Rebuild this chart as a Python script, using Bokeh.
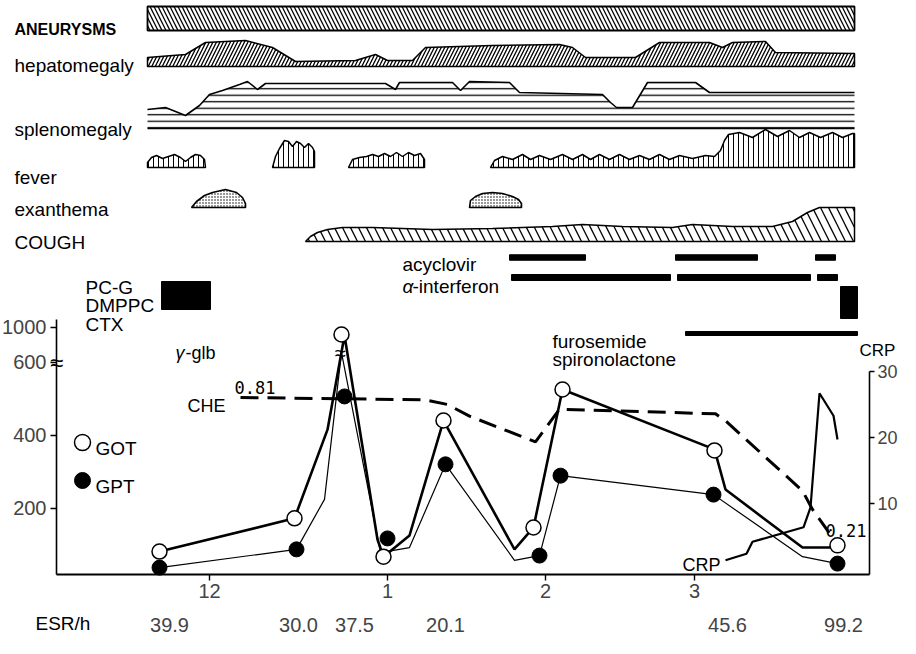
from bokeh.plotting import figure
from bokeh.models import Range1d, LinearAxis, FixedTicker, Label
from bokeh.embed import file_html
from bokeh.resources import INLINE

# ---------------- data ----------------
# time axis in days (tick "12" at day 0)
month_ticks = [0, 35.6, 67.2, 97]
month_labels = ["12", "1", "2", "3"]

got_day = [-10, 17, 26.4, 34.8, 46.8, 64.8, 70.6, 101, 125.6]
got_val = [82, 173, 920, 68, 441, 148, 526, 359, 99]
gpt_day = [-10, 17.4, 27, 35.6, 47.2, 66, 70.2, 100.8, 125.6]
gpt_val = [38, 88, 507, 118, 321, 71, 290, 238, 49]

got_line_day = [-10, 17, 23.6, 27, 33.6, 34.8, 40, 46.8, 61, 64.8, 70.6, 101, 103.2, 118.6, 125.6]
got_line_val = [82, 173, 416, 908, 115, 68, 126, 441, 88, 148, 526, 362, 252, 93, 93]
gpt_line_day = [-10, 17.4, 23, 26.4, 34.2, 40, 47.2, 61, 66, 70.2, 100.8, 118.6, 125.6]
gpt_line_val = [38, 88, 225, 713, 79, 93, 321, 58, 71, 290, 238, 68, 49]

che_day = [6.2, 43.2, 47.6, 52, 65.2, 70, 101.2, 103.2, 118.6, 120.6, 124.6]
che_val = [0.81, 0.80, 0.78, 0.73, 0.62, 0.76, 0.74, 0.71, 0.41, 0.33, 0.21]

crp_day = [103.2, 107.4, 108.6, 118.8, 120.2, 122, 124.8, 125.6]
crp_val = [1.4, 2.4, 4.2, 6.4, 9.4, 26.7, 23.3, 19.7]

esr_day = [-8, 17.8, 29, 47.2, 103.6, 126.8]
esr_val = ["39.9", "30.0", "37.5", "20.1", "45.6", "99.2"]

# clinical course bands (day, size)
aneurysm_span = [-12.4, 129]
hep_day = [-12.4, -4.8, -0.8, 7.2, 12.6, 17.2, 29.2, 33.2, 35.6, 40.6, 43.2, 56.6, 70, 72.6, 75.2,
           85.2, 90, 100, 102.6, 104.6, 111.2, 113.2, 129]
hep_h = [9, 12, 24, 26, 19, 5, 6, 12, 6, 6, 19, 21, 22, 19, 9, 9, 24, 24, 19, 24, 25, 14, 13]
spl_day = [-12.4, -8.8, -4.8, -2, 0, 2.6, 6, 7.6, 9.6, 11.2, 35.2, 37.2, 38, 48.6, 50.2, 52, 60, 62,
           78.6, 80.2, 81.4, 84.6, 87.6, 97.2, 100, 129]
spl_h = [19, 21, 13, 23, 34, 38, 44, 47, 39, 45, 45, 39, 46, 46, 38, 47, 46, 36, 34, 26, 21, 21, 46, 46, 36, 36]
fever1_day = [-12.4, -12.4, -11.6, -10.6, -9.4, -8.2, -7, -5.8, -4.8, -3.8, -2.8, -1.8, -1, -0.8]
fever1_h = [0, 5, 10, 12, 9, 11, 13, 10, 6, 10, 13, 12, 8, 0]
fever2_day = [12.6, 13.2, 14, 15, 15.8, 16.6, 17.4, 18.2, 19, 19.8, 20.6, 21, 21]
fever2_h = [0, 11, 19, 27, 26, 21, 26, 24, 20, 24, 20, 16, 0]
fever3_day = [27.8, 28.6, 30, 31.4, 32.6, 33.8, 35, 36.2, 37.4, 38.6, 39.8, 41, 42.2, 43, 43]
fever3_h = [0, 8, 10, 11, 13, 11, 14, 11, 15, 11, 15, 12, 14, 8, 0]
fever4_day = [56.2, 57, 58.6, 60.6, 62.6, 64.2, 66, 68.2, 70.6, 72.6, 74.6, 76.2, 78, 80, 82, 84, 86, 88,
              90, 92, 94, 96.6, 99.2, 101, 102.2, 103, 103.8, 106, 108.6, 111.2, 113.6, 116, 118, 120,
              122.2, 124.6, 126.6, 128.6, 129, 129]
fever4_h = [0, 7, 11, 8, 13, 8, 12, 8, 13, 8, 13, 8, 13, 8, 13, 8, 12, 8, 13, 8, 12, 9, 12, 11, 17, 27,
            33, 35, 30, 38, 31, 37, 30, 35, 30, 35, 30, 34, 34, 0]
exan1_day = [-3.6, -2.6, -1, 0.6, 3.2, 5.4, 6.6, 7.2, 7.2]
exan1_h = [0, 6, 12, 15, 18, 15, 10, 4, 0]
exan2_day = [52, 52.2, 53.2, 54.6, 56.6, 58.6, 60.6, 61.8, 62.4, 62.4]
exan2_h = [0, 7, 11, 14, 15, 14, 11, 8, 4, 0]
cough_day = [19.2, 20.2, 21.6, 23.6, 26.6, 32.6, 44.6, 56.6, 62.6, 68.6, 74.6, 82.6, 92.6, 96.6, 104.6,
             112.6, 116.6, 119.6, 122, 129]
cough_h = [0, 5, 9, 12, 14, 14, 12, 13, 14, 15, 17, 15, 14, 17, 15, 15, 20, 29, 34, 34]

# treatments (start/end days)
acyclovir_start = [60, 93.2, 121.2]
acyclovir_end = [75.2, 109.6, 125.2]
ifn_start = [60.4, 93.6, 121.6]
ifn_end = [92.2, 120.2, 125.6]
pcg_start, pcg_end = [-9.6], [0.2]
late_start, late_end = [126.2], [129.6]
furo_start, furo_end = [95.2], [129.6]

# broken GOT/GPT axis: above 600 compressed
BREAK_AT, BREAK_SCALE = 600, 0.24


def disp(v):
    return v if v <= BREAK_AT else BREAK_AT + (v - BREAK_AT) * BREAK_SCALE


# ---------------- figure ----------------
X0, X1 = -30.6, 132          # chart frame (days)
Y0 = 19.2                    # chart bottom (GOT units)
p = figure(width=900, height=638, x_range=Range1d(-41.8, 138.2), y_range=Range1d(-156.2, 1591.8),
           output_backend="svg", toolbar_location=None, x_axis_type=None, y_axis_type=None,
           min_border=0)
p.outline_line_color = None
p.xgrid.visible = False
p.ygrid.visible = False
p.extra_y_ranges = {"crp": Range1d(-10.45, 86.2), "che": Range1d(-0.2229, 2.5115),
                    "band": Range1d(646, 8)}

FONT = "Liberation Sans"
NUMF = "Liberation Sans"
MONO = "DejaVu Sans Mono"

# axes
left = LinearAxis(ticker=FixedTicker(ticks=[200, 400, 600, disp(1000)]),
                  major_label_overrides={disp(1000): "1000"}, bounds=(Y0, 718), fixed_location=X0)
right = LinearAxis(y_range_name="crp", ticker=FixedTicker(ticks=[10, 20, 30]), bounds=(-0.76, 30),
                   fixed_location=X1)
bottom = LinearAxis(ticker=FixedTicker(ticks=month_ticks),
                    major_label_overrides=dict(zip(month_ticks, month_labels)),
                    bounds=(X0, X1), fixed_location=Y0)
esr = LinearAxis(ticker=FixedTicker(ticks=esr_day), major_label_overrides=dict(zip(esr_day, esr_val)),
                 fixed_location=-85)
for ax in (left, right, bottom, esr):
    ax.major_tick_out = 6
    ax.major_tick_in = 0
    ax.minor_tick_out = 0
    ax.minor_tick_in = 0
    ax.axis_line_width = 1.6
    ax.major_tick_line_width = 1.4
    ax.major_label_text_font = NUMF
    ax.major_label_text_font_size = "20px"
    ax.major_label_standoff = 4
bottom.axis_line_width = 2.2
right.major_label_text_font_size = "18px"
right.major_tick_out = 5
right.major_label_standoff = 3
esr.axis_line_color = None
esr.major_tick_line_color = None
esr.major_tick_out = 0
esr.major_label_standoff = 5
p.add_layout(left, "left")
p.add_layout(right, "right")
p.add_layout(bottom, "below")
p.add_layout(esr, "below")

# ---- bands ----
def profile(days, h, base):
    xs = [days[0]] + list(days) + [days[-1]]
    ys = [base] + [base - v for v in h] + [base]
    return xs, ys


hatch = dict(fill_color=None, hatch_color="black", y_range_name="band")

p.quad(left=[aneurysm_span[0]], right=[aneurysm_span[1]], top=[14], bottom=[38],
       hatch_pattern="\\", hatch_scale=8, hatch_weight=1.3, line_color="black", line_width=1.8, **hatch)

xs, ys = profile(hep_day, hep_h, 74)
p.patch(xs, ys, hatch_pattern="/", hatch_scale=7, hatch_weight=1.3, line_color="black", line_width=1.5, **hatch)

xs, ys = profile(spl_day, spl_h, 136)
p.patch(xs, ys, hatch_pattern="-", hatch_scale=6.5, hatch_weight=1.3, line_color=None, **hatch)
p.line(spl_day, [136 - v for v in spl_h], line_color="black", line_width=1.6, y_range_name="band")
p.line([spl_day[0], spl_day[-1]], [136, 136], line_color="black", line_width=1.6, y_range_name="band")

for d, h in ((fever1_day, fever1_h), (fever2_day, fever2_h), (fever3_day, fever3_h), (fever4_day, fever4_h)):
    p.patch(d, [175 - v for v in h], hatch_pattern="|", hatch_scale=5, hatch_weight=1.0,
            line_color="black", line_width=1.5, **hatch)

for d, h in ((exan1_day, exan1_h), (exan2_day, exan2_h)):
    p.patch(d, [215 - v for v in h], hatch_pattern=".", hatch_scale=3, hatch_weight=1.0,
            line_color="black", line_width=1.6, **hatch)

xs, ys = profile(cough_day, cough_h, 249)
p.patch(xs, ys, hatch_pattern="\\", hatch_scale=16, hatch_weight=1.3, line_color="black", line_width=1.5, **hatch)

# treatments
p.hbar(y=[265] * 3, left=acyclovir_start, right=acyclovir_end, height=5.5, color="black", y_range_name="band")
p.hbar(y=[285] * 3, left=ifn_start, right=ifn_end, height=6, color="black", y_range_name="band")
p.quad(left=pcg_start, right=pcg_end, top=[289], bottom=[317], color="black", y_range_name="band")
p.quad(left=late_start, right=late_end, top=[294], bottom=[326], color="black", y_range_name="band")
p.hbar(y=[341], left=furo_start, right=furo_end, height=4, color="black", y_range_name="band")

# ---- lab curves ----
p.line(che_day, che_val, y_range_name="che", line_color="black", line_width=3, line_dash="18 9")
p.line(crp_day, crp_val, y_range_name="crp", line_color="black", line_width=2.2)
p.line(gpt_line_day, [disp(v) for v in gpt_line_val], line_color="black", line_width=1.2)
p.line(got_line_day, [disp(v) for v in got_line_val], line_color="black", line_width=2.6)
p.scatter(gpt_day, [disp(v) for v in gpt_val], marker="circle", size=15, fill_color="black", line_color="black")
p.scatter(got_day, [disp(v) for v in got_val], marker="circle", size=15, fill_color="white",
          line_color="black", line_width=1.5)

# legend markers
p.scatter([-25.4], [450], marker="circle", size=16, fill_color="white", line_color="black",
          line_width=1.5, y_range_name="band")
p.scatter([-25.4], [488], marker="circle", size=16, fill_color="black", line_color="black",
          y_range_name="band")


def lab(x, y, text, size=19, font=FONT, style="normal", align="left", rng="band", bg=None, baseline="alphabetic"):
    p.add_layout(Label(x=x, y=y, text=text, y_range_name=rng, text_font=font, text_font_size=f"{size}px",
                       text_font_style=style, text_align=align, text_baseline=baseline, text_color="black",
                       background_fill_color=bg))


lab(-39, 37, "ANEURYSMS", size=16, style="bold")
lab(-39, 73, "hepatomegaly")
lab(-39, 137, "splenomegaly")
lab(-39, 185, "fever")
lab(-39, 217, "exanthema")
lab(-39, 250, "COUGH")
lab(38.6, 272, "acyclovir")
lab(38.6, 294, "α", style="italic")
lab(40.6, 294, "-interferon")
lab(-24.8, 295, "PC-G")
lab(-24.8, 313, "DMPPC")
lab(-24.8, 332, "CTX")
lab(-6.8, 360, "γ", size=18, style="italic")
lab(-4.8, 360, "-glb", size=18)
lab(68.6, 349, "furosemide")
lab(68.6, 367, "spironolactone")
lab(130.0, 358, "CRP", size=17)
lab(-4.4, 413, "CHE", size=18)
lab(5, 395, "0.81", size=17, font=MONO)
lab(123.2, 538, "0.21", size=17, font=MONO)
lab(94.6, 572, "CRP", size=18)
lab(-22.8, 456, "GOT", size=19)
lab(-22.8, 494, "GPT", size=19)
lab(-34.8, 631, "ESR/h", size=19)
# axis breaks
lab(X0, 600, "≈", size=24, align="center", rng="default", baseline="middle")
lab(26.2, disp(712), "≈", size=20, align="center", rng="default", baseline="middle")

open("out.html", "w").write(file_html(p, INLINE))
